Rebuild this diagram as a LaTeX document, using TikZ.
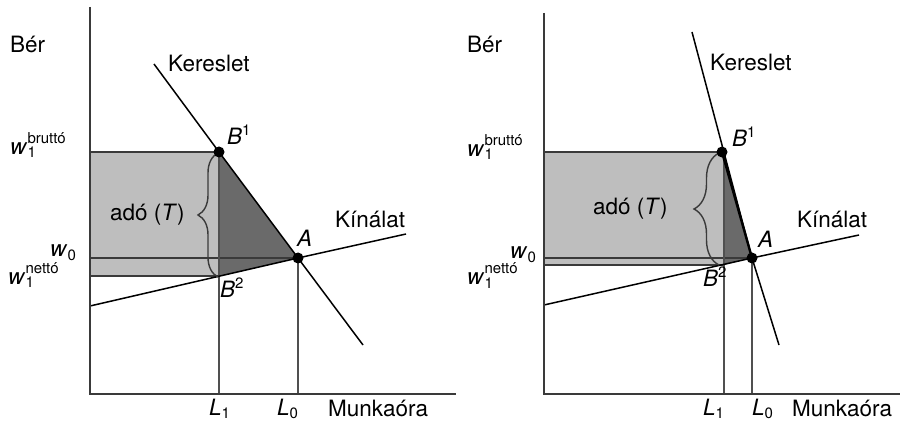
\documentclass[tikz,border=0pt]{standalone}
\usepackage{fontspec}
\setmainfont{TeX Gyre Heros}
\usetikzlibrary{decorations.pathreplacing}

\newcommand{\lblsmall}{\fontsize{15}{16}\selectfont}
% wage symbol with stacked subscript and superscript
\newcommand{\wage}[2]{\textit{w}\rlap{\raisebox{-3pt}{\lblsmall #1}}\raisebox{11pt}{\lblsmall #2}}
\newcommand{\wsub}[1]{\textit{w}\raisebox{-3.5pt}{\lblsmall #1}}
\newcommand{\pt}[2]{\textit{#1}\raisebox{9pt}{\lblsmall #2}}
\newcommand{\Lsub}[1]{\textit{L}\raisebox{-3pt}{\lblsmall #1}}

\definecolor{lightfill}{HTML}{BEBEBE}
\definecolor{darkfill}{HTML}{6A6A6A}
\definecolor{axiscol}{HTML}{3A3A3A}
\definecolor{guidecol}{HTML}{505050}

\tikzset{
  lbl/.style={anchor=base west, inner sep=0pt, font=\fontsize{22.5}{25}\selectfont},
  axisline/.style={draw=axiscol, line width=2pt},
  curve/.style={draw=black, line width=1.5pt},
  guide/.style={draw=guidecol, line width=1.2pt},
  edge/.style={draw=axiscol, line width=1.3pt},
  dot/.style={circle, fill=black, inner sep=0pt, minimum size=11pt},
  bracelbl/.style={draw=axiscol, line width=1.4pt, decorate},
}

\begin{document}
\begin{tikzpicture}[x=1pt,y=-1pt]
\useasboundingbox (0,0) rectangle (900,422);

% ---------- left panel: elastic demand ----------
\coordinate (O1) at (90,394);
\coordinate (Y1) at (90,7);
\coordinate (X1) at (456,394);
\coordinate (D1t) at (154,64);
\coordinate (B11) at (219,152);
\coordinate (A1) at (298,258);
\coordinate (D1b) at (363,345);
\coordinate (S1l) at (90,306);
\coordinate (S1r) at (406,234);
\coordinate (B21) at (219,276);
\coordinate (W01) at (90,258);
\coordinate (R1t) at (90,152);
\coordinate (R1b) at (90,276);
\coordinate (L11) at (219,394);
\coordinate (L01) at (298,394);

\fill[lightfill] (R1t) rectangle (B21);
\fill[darkfill] (B11) -- (A1) -- (B21) -- cycle;
\draw[edge] (R1t) -- (B11);
\draw[edge] (R1b) -- (B21);
\draw[edge] (W01) -- (A1);
\draw[guide] (B11) -- (L11);
\draw[guide] (A1) -- (L01);
\draw[curve] (D1t) -- (B11) -- (A1) -- (D1b);
\draw[curve] (S1l) -- (A1) -- (S1r);
\draw[axisline] (Y1) -- (O1) -- (X1);
\draw[bracelbl, decoration={brace, amplitude=20pt}] (218,277) -- (218,153);
\node[dot] (dB11) at (B11) {};
\node[dot] (dA1) at (A1) {};

\node[lbl] (ber1) at (10,53) {Bér};
\node[lbl] (ker1) at (168,72) {Kereslet};
\node[lbl] (wb1) at (10,155) {\wage{1}{bruttó}};
\node[lbl] (w01) at (50,257) {\wsub{0}};
\node[lbl] (wn1) at (8,284) {\wage{1}{nettó}};
\node[lbl] (ado1) at (110,221) {adó (\textit{T})};
\node[lbl] (lB11) at (227,145) {\pt{B}{1}};
\node[lbl] (lB21) at (220,298) {\pt{B}{2}};
\node[lbl] (lA1) at (297,247) {\textit{A}};
\node[lbl] (kin1) at (335,228) {Kínálat};
\node[lbl] (lL11) at (209,415) {\Lsub{1}};
\node[lbl] (lL01) at (277,415) {\Lsub{0}};
\node[lbl] (mu1) at (328,416) {Munkaóra};

% ---------- right panel: inelastic demand ----------
\coordinate (O2) at (544,394);
\coordinate (Y2) at (544,13);
\coordinate (X2) at (900,394);
\coordinate (D2t) at (692,32);
\coordinate (B12) at (722,152);
\coordinate (A2) at (752,258);
\coordinate (D2b) at (779,345);
\coordinate (S2l) at (544,305);
\coordinate (S2r) at (859,235);
\coordinate (B22) at (724,265);
\coordinate (W02) at (544,258);
\coordinate (R2t) at (544,152);
\coordinate (R2b) at (544,265);
\coordinate (C2) at (724,152);
\coordinate (L12) at (724,394);
\coordinate (L02) at (752,394);

\fill[lightfill] (R2t) rectangle (B22);
\fill[darkfill] (C2) -- (A2) -- (B22) -- cycle;
\draw[edge] (R2t) -- (B12);
\draw[edge] (R2b) -- (B22);
\draw[edge] (W02) -- (A2);
\draw[guide] (C2) -- (L12);
\draw[guide] (A2) -- (L02);
\draw[curve] (D2t) -- (A2) -- (D2b);
\draw[curve, line width=2.4pt] (B12) -- (A2);
\draw[curve] (S2l) -- (A2) -- (S2r);
\draw[axisline] (Y2) -- (O2) -- (X2);
\draw[bracelbl, decoration={brace, amplitude=25pt}] (719,265) -- (719,153);
\node[dot] (dB12) at (B12) {};
\node[dot] (dA2) at (A2) {};

\node[lbl] (ber2) at (467,53) {Bér};
\node[lbl] (ker2) at (710,71) {Kereslet};
\node[lbl] (wb2) at (467,157) {\wage{1}{bruttó}};
\node[lbl] (w02) at (510,259) {\wsub{0}};
\node[lbl] (wn2) at (467,285) {\wage{1}{nettó}};
\node[lbl] (ado2) at (593,215) {adó (\textit{T})};
\node[lbl] (lB12) at (732,147) {\pt{B}{1}};
\node[lbl] (lB22) at (703,287) {\pt{B}{2}};
\node[lbl] (lA2) at (758,248) {\textit{A}};
\node[lbl] (kin2) at (797,228) {Kínálat};
\node[lbl] (lL12) at (703,415) {\Lsub{1}};
\node[lbl] (lL02) at (752,415) {\Lsub{0}};
\node[lbl] (mu2) at (792,416) {Munkaóra};
\end{tikzpicture}
\end{document}
